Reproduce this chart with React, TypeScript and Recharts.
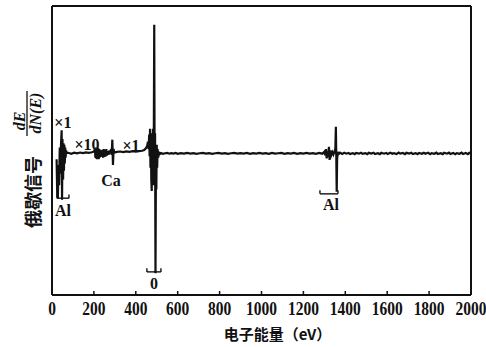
import React from 'react';
import { LineChart, Line, XAxis, YAxis, ReferenceLine, ReferenceDot, Label } from 'recharts';

// Auger spectrum dE/dN(E) vs electron energy (eV)
const alLowRegion: [number, number][] = [
  [22, -4], [25, -29], [28, -31], [31, -8], [34, -22], [37, 4], [40, -14], [43, 6], [46, 16], [48, -32],
  [50, 10], [53, -18], [55, 7], [57, -12], [59, 6], [61, -7], [63, 4], [65, -3], [67, 2], [70, 0.3],
];
const times10Region: [number, number][] = [
  [78, 0.4], [92, -0.3], [106, 0.5], [120, 0], [134, 0.6], [148, 0.2], [162, 0.7], [176, 0.4], [190, 0.8], [200, 1.2],
];
const caRegion: [number, number][] = [
  [205, 3], [207, -3], [209, 4], [211, -3.5], [213, 3.5], [215, -4], [217, 4], [219, -3], [221, 3.5], [223, -4],
  [225, 3], [227, -3], [229, 2.5], [232, -2.5], [235, 2], [238, -2], [241, 2.5], [244, -3], [247, 3], [250, -2.5],
  [253, 2], [256, -2], [259, 3], [262, -1.5], [266, 1.5], [270, -1], [274, 2], [278, 0], [282, 3], [285, -1],
  [288, 9.5], [291, -8], [294, 3], [297, 0.5],
];
const times1Region: [number, number][] = [
  [310, 1], [325, 1.3], [340, 0.9], [355, 1.4], [370, 1.1], [385, 1.5], [400, 1.2], [415, 1.6], [430, 1.8],
  [440, 2.3], [448, 3.5], [454, 5],
];
const oRegion: [number, number][] = [
  [458, 8], [461, 3], [464, 13], [466, -2], [468, 17], [470, -10], [472, 12], [474, -18], [476, -26], [478, 14],
  [480, -14], [482, 17], [484, -22], [486, 12], [488, 89], [490, -18], [492, 14], [494, -83], [496, -12], [498, -25],
  [500, 6], [502, -10], [504, 3], [507, -3], [510, 1], [514, -0.5],
];
const midBaseline: [number, number][] = [
  [520, 0.2], [530, -0.3], [540, 0.1], [550, 0.3], [560, -0.2], [570, 0.2], [580, -0.1], [590, 0.3], [600, -0.3],
  [615, 0.2], [630, -0.2], [645, 0.3], [660, -0.1], [675, 0.2], [690, -0.3], [705, 0.1], [720, 0.3], [735, -0.2],
  [750, 0.2], [765, -0.3], [780, 0.1], [795, 0.3], [810, -0.2], [825, 0.2], [840, -0.3], [855, 0.1], [870, 0.3],
  [885, -0.2], [900, 0.2], [915, -0.1], [930, 0.3], [945, -0.3], [960, 0.2], [975, -0.2], [990, 0.3], [1005, -0.1],
  [1020, 0.2], [1035, -0.3], [1050, 0.3], [1065, -0.2], [1080, 0.1], [1095, 0.3], [1110, -0.3], [1125, 0.2],
  [1140, -0.1], [1155, 0.3], [1170, -0.3], [1185, 0.2], [1200, -0.2], [1215, 0.3], [1230, -0.1], [1245, 0.2],
  [1260, -0.3], [1275, 0.3], [1290, -0.2],
];
const alHighRegion: [number, number][] = [
  [1300, 1.2], [1304, -1.2], [1308, 3], [1311, -3.5], [1314, 1.5], [1318, -2.5], [1322, 4.5], [1325, -4.5], [1329, 2],
  [1333, -1.2], [1338, 0.8], [1343, -0.8], [1348, 1.2], [1352, 0], [1355, 18.5], [1357, -2], [1359, -26.5],
  [1361, -4], [1364, 1], [1368, -0.5], [1375, 0.5], [1385, -0.4],
];
const highBaseline: [number, number][] = [
  [1395, 0.4], [1405, -0.2], [1415, 0.3], [1422, -0.4], [1435, 0.2], [1445, -0.5], [1452, 0.3], [1465, -0.2],
  [1475, 0.5], [1482, -0.3], [1495, 0.2], [1505, -0.5], [1512, 0.4], [1525, -0.1], [1535, 0.5], [1542, -0.4],
  [1555, 0.1], [1565, -0.5], [1572, 0.4], [1585, -0.2], [1595, 0.3], [1602, -0.4], [1615, 0.5], [1625, -0.3],
  [1632, 0.2], [1645, -0.4], [1655, 0.5], [1662, -0.2], [1675, 0.3], [1685, -0.5], [1692, 0.4], [1705, -0.1],
  [1715, 0.5], [1722, -0.4], [1735, 0.2], [1745, -0.5], [1752, 0.3], [1765, -0.3], [1775, 0.5], [1782, -0.2],
  [1795, 0.4], [1805, -0.5], [1812, 0.2], [1825, -0.3], [1835, 0.5], [1842, -0.4], [1855, 0.1], [1865, -0.5],
  [1872, 0.4], [1885, -0.2], [1895, 0.5], [1902, -0.4], [1915, 0.3], [1925, -0.5], [1932, 0.2], [1945, -0.3],
  [1955, 0.5], [1962, -0.4], [1975, 0.3], [1985, -0.5], [1992, 0.4], [2000, 0],
];

const xTicks = [0, 200, 400, 600, 800, 1000, 1200, 1400, 1600, 1800, 2000];

const annotationText = ['×1', '×10', 'Ca', '×1', 'Al', '0', 'Al'];
const annotationE = [52, 167, 282, 377, 52, 487, 1332];
const annotationV = [21.7, 6.5, -18.4, 5.8, -39.2, -89.7, -35];

const bracketFrom = [24, 453, 1279];
const bracketTo = [81, 520, 1365];
const bracketV = [-31, -82, -28];

const spectrum = [
  ...alLowRegion, ...times10Region, ...caRegion, ...times1Region, ...oRegion,
  ...midBaseline, ...alHighRegion, ...highBaseline,
].map(([e, s]) => ({ e, s }));

const serif = '"Liberation Serif", "DejaVu Serif", serif';
const cjk = '"Noto Sans CJK SC", sans-serif';

const XTick = (props: any) => {
  const { x, payload } = props;
  return (
    <text transform={`translate(${x} 309) scale(0.86 1)`} textAnchor="middle" dominantBaseline="central"
      fontFamily={serif} fontWeight={700} fontSize={18} fill="#111">{payload.value}</text>
  );
};

export default function App() {
  return (
    <div style={{ position: 'absolute', left: 0, top: 0, width: 486, height: 347, background: '#fff' }}>
      <LineChart width={486} height={347} data={spectrum} margin={{ top: 5, right: 14, bottom: 0, left: 51 }}>
        <XAxis xAxisId="b" dataKey="e" type="number" domain={[0, 2000]} ticks={xTicks} height={52}
          axisLine={{ stroke: '#111', strokeWidth: 2 }} tickLine={{ stroke: '#111', strokeWidth: 1.5 }}
          tickSize={-4} tickMargin={14} interval={0} allowDataOverflow tick={<XTick />}>
          <Label value="电子能量（eV）" position="insideBottom" offset={7} dx={16}
            style={{ fontFamily: cjk, fontWeight: 700, fontSize: 15, fill: '#111' }} />
        </XAxis>
        <XAxis xAxisId="t" orientation="top" dataKey="e" type="number" domain={[0, 2000]} ticks={xTicks} height={1}
          axisLine={{ stroke: '#111', strokeWidth: 2 }} tickLine={{ stroke: '#111', strokeWidth: 1.5 }}
          tickSize={-4} tick={false} interval={0} />
        <YAxis yAxisId="l" type="number" domain={[-98, 102]} width={1} tick={false} tickLine={false}
          axisLine={{ stroke: '#111', strokeWidth: 2 }} allowDataOverflow />
        <YAxis yAxisId="r" orientation="right" type="number" domain={[-98, 102]} width={1} tick={false}
          tickLine={false} axisLine={{ stroke: '#111', strokeWidth: 2 }} />
        <Line xAxisId="b" yAxisId="l" dataKey="s" type="linear" dot={false} stroke="#111" strokeWidth={2.2}
          isAnimationActive={false} />
        {bracketFrom.map((f, i) => (
          <ReferenceLine key={'bh' + i} xAxisId="b" yAxisId="l" segment={[{ x: f, y: bracketV[i] }, { x: bracketTo[i], y: bracketV[i] }]}
            stroke="#111" strokeWidth={1.4} />
        ))}
        {bracketFrom.map((f, i) => (
          <ReferenceLine key={'bl' + i} xAxisId="b" yAxisId="l" segment={[{ x: f, y: bracketV[i] }, { x: f, y: bracketV[i] + 2.5 }]}
            stroke="#111" strokeWidth={1.4} />
        ))}
        {bracketTo.map((t, i) => (
          <ReferenceLine key={'br' + i} xAxisId="b" yAxisId="l" segment={[{ x: t, y: bracketV[i] }, { x: t, y: bracketV[i] + 2.5 }]}
            stroke="#111" strokeWidth={1.4} />
        ))}
        {annotationText.map((t, i) => (
          <ReferenceDot key={'a' + i} xAxisId="b" yAxisId="l" x={annotationE[i]} y={annotationV[i]} r={0}
            fill="none" stroke="none"
            label={<Label value={t} position="center"
              style={{ fontFamily: serif, fontWeight: 700, fontSize: 16, fill: '#111' }} />} />
        ))}
      </LineChart>
      <svg width={60} height={347} style={{ position: 'absolute', left: 0, top: 0, pointerEvents: 'none' }}>
        <text x={32} y={192} transform="rotate(-90 32 192)" textAnchor="middle" dominantBaseline="central"
          fontFamily={cjk} fontWeight={700} fontSize={18} fill="#111">俄歇信号</text>
        <text x={19} y={121} transform="rotate(-90 19 121)" textAnchor="middle" dominantBaseline="central"
          fontFamily={serif} fontStyle="italic" fontWeight={700} fontSize={16} fill="#111">dE</text>
        <line x1={27} y1={91} x2={27} y2={136} stroke="#111" strokeWidth={1.3} />
        <text x={35} y={113} transform="rotate(-90 35 113)" textAnchor="middle" dominantBaseline="central"
          fontFamily={serif} fontStyle="italic" fontWeight={700} fontSize={16} fill="#111">dN(E)</text>
      </svg>
    </div>
  );
}
